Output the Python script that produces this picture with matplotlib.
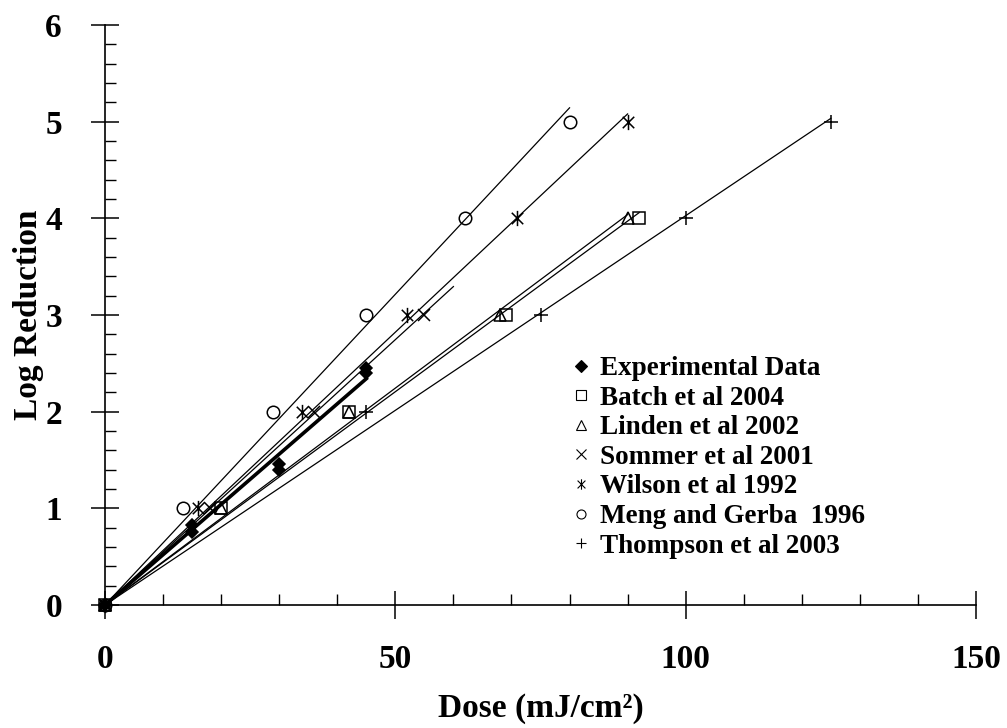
import matplotlib
matplotlib.use("Agg")
import matplotlib.pyplot as plt
import numpy as np
from matplotlib.lines import Line2D
from matplotlib.path import Path
from matplotlib.ticker import MultipleLocator

plt.rcParams["font.family"] = ["Liberation Serif", "DejaVu Serif"]
plt.rcParams["font.weight"] = "bold"

# data (dose mJ/cm2, log reduction)
exp_dose = [0, 15, 15, 30, 30, 45, 45]
exp_logr = [0, 0.75, 0.83, 1.40, 1.46, 2.40, 2.45]

batch_dose = [0, 20, 42, 69, 92]
batch_logr = [0, 1, 2, 3, 4]

linden_dose = [0, 20, 42, 68, 90]
linden_logr = [0, 1, 2, 3, 4]

sommer_dose = [0, 18, 36, 55]
sommer_logr = [0, 1, 2, 3]

wilson_dose = [0, 16, 34, 52, 71, 90]
wilson_logr = [0, 1, 2, 3, 4, 5]

meng_dose = [0, 13.5, 29, 45, 62, 80]
meng_logr = [0, 1, 2, 3, 4, 5]

thompson_dose = [0, 45, 75, 100, 125]
thompson_logr = [0, 2, 3, 4, 5]

# asterisk marker: an x with a vertical bar
star_path = Path(
    [(0, -1), (0, 1), (-0.75, -0.75), (0.75, 0.75), (-0.75, 0.75), (0.75, -0.75)],
    [Path.MOVETO, Path.LINETO, Path.MOVETO, Path.LINETO, Path.MOVETO, Path.LINETO],
)

series = [
    ("Experimental Data", exp_dose, exp_logr, "D", True, 6.5, 45),
    ("Batch et al 2004", batch_dose, batch_logr, "s", False, 9, None),
    ("Linden et al 2002", linden_dose, linden_logr, "^", False, 9, None),
    ("Sommer et al 2001", sommer_dose, sommer_logr, "x", False, 9, 60),
    ("Wilson et al 1992", wilson_dose, wilson_logr, star_path, False, 11, None),
    ("Meng and Gerba  1996", meng_dose, meng_logr, "o", False, 9, None),
    ("Thompson et al 2003", thompson_dose, thompson_logr, "+", False, 10, None),
]

fig = plt.figure(figsize=(10.07, 7.28), dpi=100)
ax = fig.add_axes([0.1043, 0.169, 0.8649, 0.7967])

handles = []
for name, x, y, mk, filled, ms, xend in series:
    x = np.array(x, dtype=float)
    y = np.array(y, dtype=float)
    # linear fit forced through the origin
    slope = np.sum(x * y) / np.sum(x * x)
    xe = x.max() if xend is None else xend
    xf = np.array([0, xe])
    lw = 2.6 if filled else 0.9
    ax.plot(xf, slope * xf, color="black", lw=lw, zorder=2)
    ax.plot(x, y, linestyle="none", marker=mk, markersize=ms,
            markerfacecolor="black" if filled else "none",
            markeredgecolor="black", markeredgewidth=1.1, zorder=3,
            clip_on=False)
    handles.append(Line2D([], [], linestyle="none", marker=mk,
                          markersize=6.5 if mk is not star_path else 7.5,
                          markerfacecolor="black" if filled else "none",
                          markeredgecolor="black", markeredgewidth=0.8,
                          label=name))

ax.set_xlim(0, 150)
ax.set_ylim(0, 6)
ax.xaxis.set_major_locator(MultipleLocator(50))
ax.xaxis.set_minor_locator(MultipleLocator(10))
ax.yaxis.set_major_locator(MultipleLocator(1))
ax.yaxis.set_minor_locator(MultipleLocator(0.2))

for s in ["top", "right"]:
    ax.spines[s].set_visible(False)
for s in ["left", "bottom"]:
    ax.spines[s].set_linewidth(1.2)

ax.tick_params(which="major", direction="inout", length=20, width=1.1,
               labelsize=24)
ax.tick_params(which="minor", direction="in", length=8, width=1.0)
ax.tick_params(axis="x", which="major", pad=18)
ax.tick_params(axis="y", which="major", pad=21)

ax.set_xlabel("Dose (mJ/cm²)", fontsize=24, fontweight="bold", labelpad=13)
ax.set_ylabel("Log Reduction", fontsize=24, fontweight="bold", labelpad=1)

fig.legend(handles=handles, loc="upper left", bbox_to_anchor=(0.566, 0.511),
           bbox_transform=fig.transFigure, frameon=False,
           handlelength=0.8, handletextpad=0.3, labelspacing=0.17,
           borderpad=0, borderaxespad=0, prop={"weight": "bold", "size": 19.5})

fig.savefig("out.png", dpi=100)
